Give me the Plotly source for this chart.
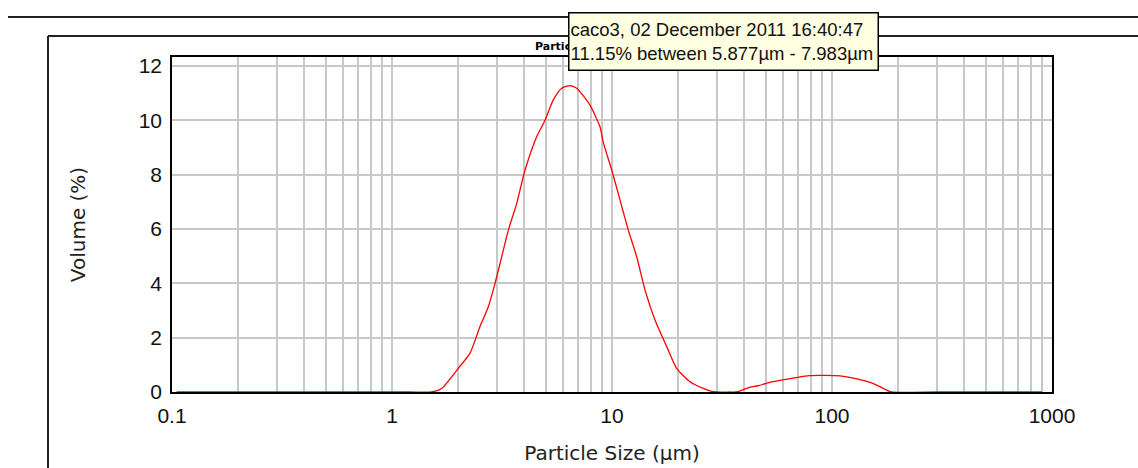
import plotly.graph_objects as go

# Particle size distribution (volume %) of sample caco3
size_um = [0.105, 0.5, 1.2, 1.515, 1.68, 2.00, 2.26, 2.51, 2.74, 2.94, 3.10, 3.38, 3.69,
           3.95, 4.16, 4.55, 4.96, 5.41, 5.91, 6.44, 6.91, 7.94, 8.82, 9.12, 9.97,
           10.68, 11.86, 12.95, 14.13, 15.68, 17.73, 19.68, 22.62, 26.0, 27.9, 30.0,
           34.4, 36.5, 38.5, 42.4, 46.0, 53.9, 57.1, 70.8, 78.6, 92.9, 108.7, 130.0,
           156.0, 172.0, 186.0, 300.0, 600.0, 900.0]
volume_pct = [0, 0, 0, 0, 0.13, 0.87, 1.42, 2.40, 3.14, 4.00, 4.74, 5.96, 6.94,
              7.93, 8.54, 9.40, 10.00, 10.75, 11.18, 11.28, 11.18, 10.56, 9.76, 9.20, 8.17,
              7.30, 5.96, 4.98, 3.75, 2.65, 1.67, 0.87, 0.38, 0.13, 0.04, 0,
              0, 0, 0.05, 0.18, 0.23, 0.38, 0.42, 0.55, 0.60, 0.61, 0.59, 0.48,
              0.29, 0.12, 0, 0, 0, 0]

x_tickvals = [0.1, 1, 10, 100, 1000]
x_ticktext = ["0.1", "1", "10", "100", "1000"]
x_minor = [m * 10 ** e for e in range(-1, 3) for m in range(2, 10)]
y_tickvals = [0, 2, 4, 6, 8, 10, 12]

W, H = 1138, 468
L, R, T, B = 172, 86, 57, 76
PW, PH = W - L - R, H - T - B


def px(x):
    return (x - L) / PW


def py(y):
    return (H - B - y) / PH


fig = go.Figure()
fig.add_trace(go.Scatter(
    x=size_um, y=volume_pct, mode="lines",
    line=dict(color="#ff0000", width=1.3, shape="spline", smoothing=0.6),
    hoverinfo="skip", showlegend=False,
))

tick_font = dict(family="Liberation Sans, Arial, sans-serif", size=21, color="#111111")
title_font = dict(family="DejaVu Sans, Verdana, sans-serif", size=20, color="#222222")

fig.update_xaxes(
    type="log", range=[-1, 3], automargin=False,
    tickvals=x_tickvals, ticktext=x_ticktext,
    showgrid=True, gridcolor="#c8c8c8", gridwidth=1.5,
    minor=dict(tickvals=x_minor, showgrid=True, gridcolor="#c8c8c8", gridwidth=1.5, ticks=""),
    showline=True, linecolor="#000000", linewidth=1.5, mirror=True,
    ticks="", tickfont=tick_font, zeroline=False, ticklabelstandoff=4,
    title=dict(text="Particle Size (µm)", font=title_font, standoff=20),
)
fig.update_yaxes(
    range=[0, 12.33], automargin=False, tickvals=y_tickvals,
    showgrid=True, gridcolor="#c8c8c8", gridwidth=1.5,
    showline=True, linecolor="#000000", linewidth=1.5, mirror=True,
    ticks="", tickfont=tick_font, zeroline=False, ticklabelstandoff=4,
    title=dict(text="Volume (%)", font=title_font, standoff=48),
)

# outer window frame lines
frame = dict(color="#222222", width=2)
fig.add_shape(type="line", xref="paper", yref="paper", x0=px(8), x1=px(W + 5), y0=py(17), y1=py(17), line=frame)
fig.add_shape(type="line", xref="paper", yref="paper", x0=px(48), x1=px(W + 5), y0=py(36), y1=py(36), line=frame)
fig.add_shape(type="line", xref="paper", yref="paper", x0=px(48), x1=px(48), y0=py(36), y1=py(H + 5), line=frame)

# chart title (partly hidden beneath the hover label)
fig.add_annotation(
    xref="paper", yref="paper", x=0.5, y=py(46), xanchor="center", yanchor="middle",
    text="<b>Particle Size Distribution</b>", showarrow=False,
    font=dict(family="DejaVu Sans, Verdana, sans-serif", size=11, color="#000000"),
)

# hover label box
fig.add_annotation(
    xref="paper", yref="paper", x=px(568), y=py(12), xanchor="left", yanchor="top",
    text="caco3, 02 December 2011 16:40:47<br>11.15% between 5.877µm - 7.983µm",
    showarrow=False, align="left", valign="middle",
    width=306, height=54,
    font=dict(family="Liberation Sans, Arial, sans-serif", size=18.5, color="#111111"),
    bgcolor="#ffffe1", bordercolor="#000000", borderwidth=1.5, borderpad=1,
)

fig.update_layout(
    width=W, height=H,
    margin=dict(l=L, r=R, t=T, b=B, pad=0),
    paper_bgcolor="#ffffff", plot_bgcolor="#ffffff",
    showlegend=False,
)

fig.write_html("out.html")
